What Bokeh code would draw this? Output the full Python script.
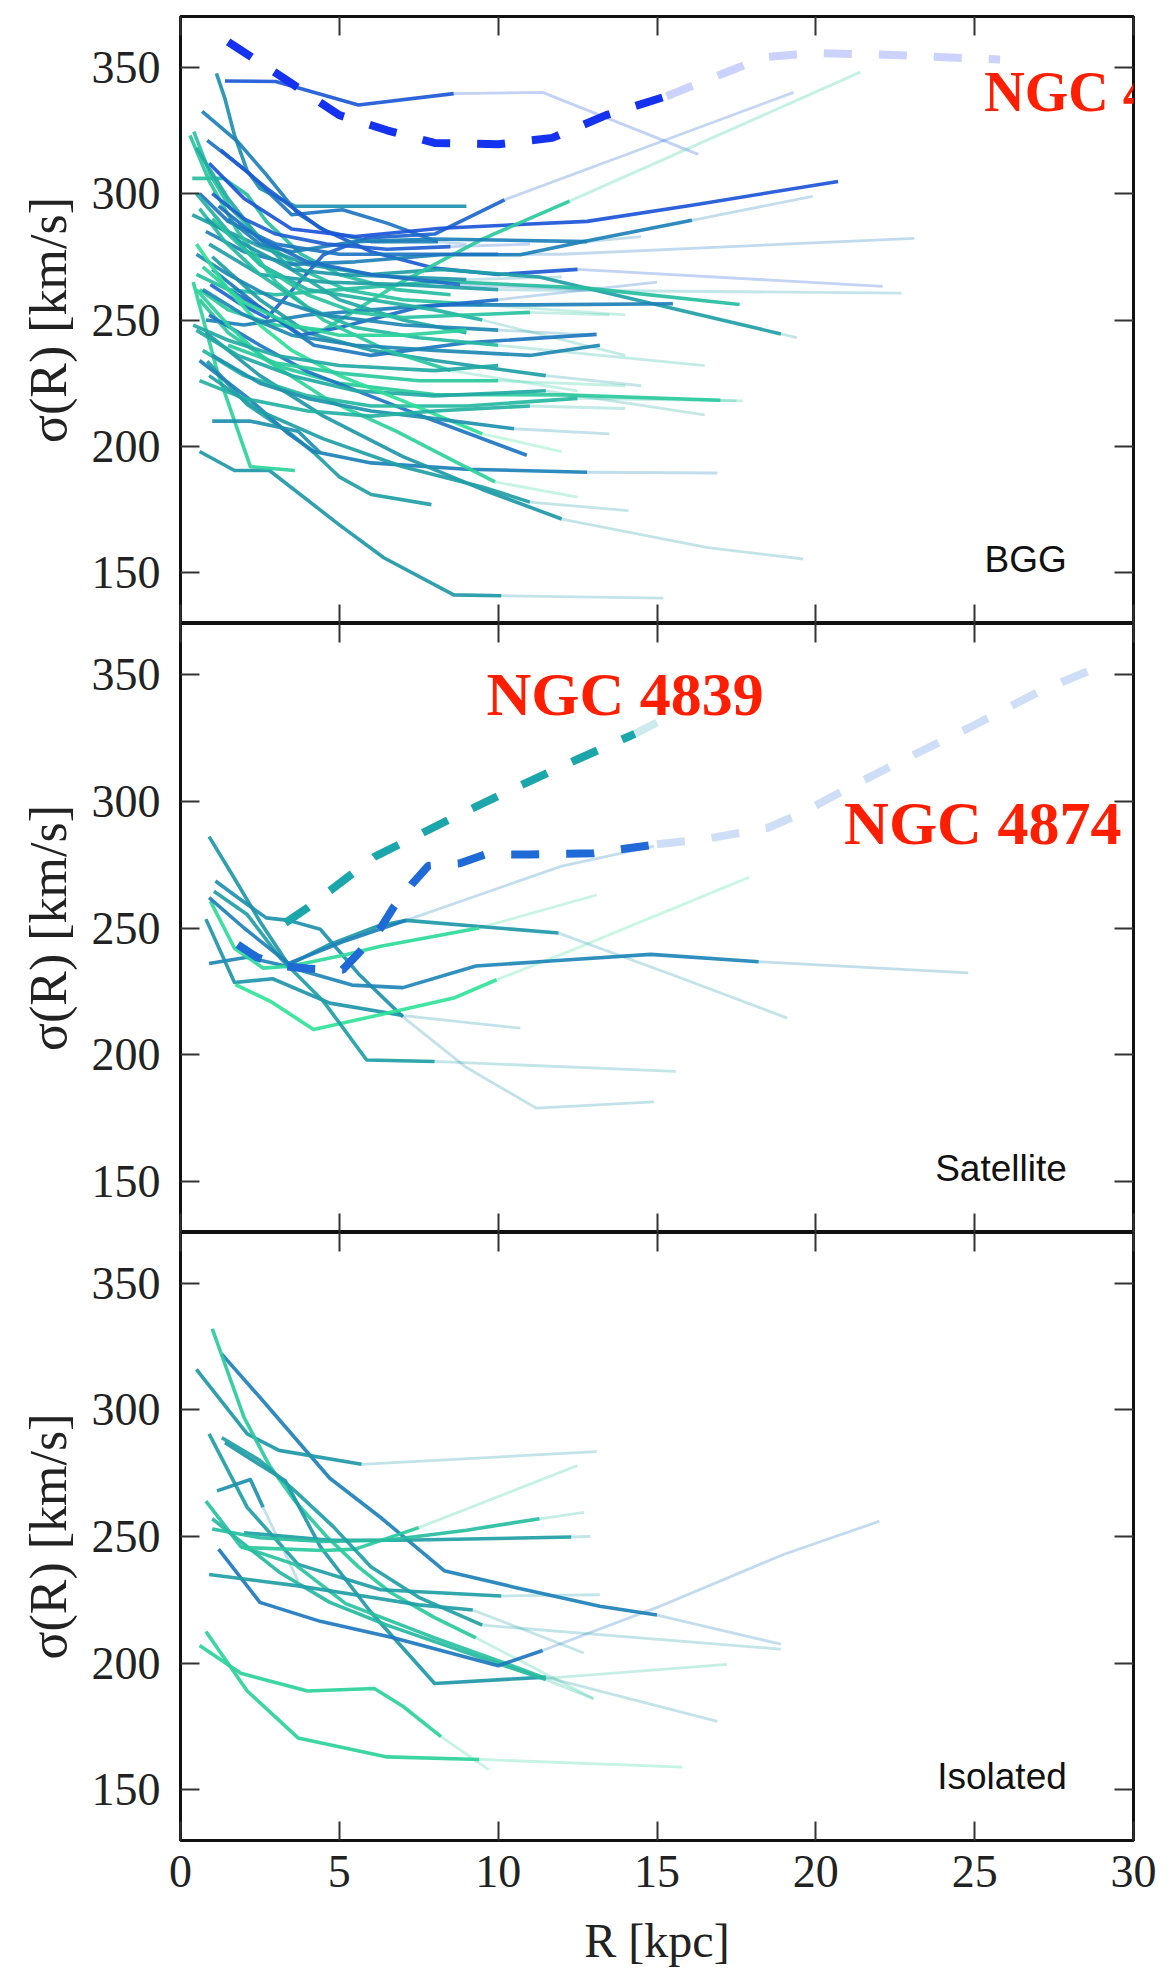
from bokeh.plotting import figure
from bokeh.models import Range1d, LinearAxis, FixedTicker, Label, CustomLabelingPolicy
from bokeh.layouts import column
from bokeh.embed import file_html
from bokeh.resources import INLINE

# ---------------- axes / ticks ----------------
X_TICKS = [0, 5, 10, 15, 20, 25, 30]
Y_TICKS = [150, 200, 250, 300, 350]
X_RANGE = (0, 30)
Y_RANGE = (130, 370)
X_LABEL = "R [kpc]"
Y_LABEL = "σ(R) [km/s]"
PANEL_NAMES = ["BGG", "Satellite", "Isolated"]

# ---------------- BGG panel: R [kpc], sigma [km/s], colour value, faint continuation ----------------
BGG_R = [
    [1.4, 3.0, 5.6, 8.6],
    [1.13, 1.4, 1.7, 2.1, 2.5, 3.6, 9.0],
    [0.68, 1.8, 2.7, 3.7, 4.6, 6.0, 8.1],
    [0.84, 2.1, 3.5, 5.1, 6.5, 8.1],
    [1.26, 2.7, 4.4, 6.0, 8.0, 10.0, 12.5],
    [0.42, 0.94, 1.57, 2.62, 3.8, 5.2, 7.0, 9.5],
    [0.37, 1.36, 2.1, 2.7, 3.8, 5.0, 6.8, 8.5],
    [0.37, 1.26, 2.62, 4.0, 6.0, 8.2, 11.3, 15.0, 18.9],
    [0.94, 1.8, 2.72, 3.6, 4.5, 5.86, 8.0, 10.2],
    [0.9, 2.0, 3.5, 5.5, 8.2, 12.8, 16.2, 20.7],
    [0.8, 2.0, 3.5, 5.5, 8.2, 10.7, 12.7, 16.1],
    [0.6, 1.5, 3.0, 4.5, 6.9, 9.5, 12.25],
    [0.6, 1.5, 3.0, 5.0, 8.0, 10.0],
    [0.5, 1.5, 3.0, 5.0, 8.2, 12.8, 17.6],
    [0.8, 2.0, 4.0, 6.0, 8.2, 11.0, 15.5],
    [0.9, 2.5, 4.5, 7.0, 10.0],
    [0.6, 1.5, 3.0, 5.0, 8.0, 12.0, 17.0],
    [0.6, 1.7, 2.8, 5.0, 6.4, 8.6, 10.1],
    [0.4, 1.15, 2.2, 3.6],
    [0.84, 2.1, 3.5, 4.2, 5.0, 6.0, 7.9],
    [0.6, 2.2, 3.4, 4.2, 6.0, 9.0, 12.8],
    [0.9, 2.5, 4.0, 7.6, 10.9],
    [0.8, 2.5, 4.5, 7.0, 9.5, 12.0],
    [1.0, 2.2, 3.7, 4.4],
    [0.5, 1.5, 2.6, 4.7, 6.8, 8.8, 9.9],
    [0.5, 1.8, 3.5, 5.5, 8.0, 11.5],
    [0.7, 2.0, 4.0, 6.0, 9.0, 12.5],
    [1.0, 2.5, 4.0, 6.0, 8.0, 11.5],
    [1.0, 2.5, 4.2, 6.0, 9.0, 13.1],
    [1.5, 2.5, 3.8, 5.0, 7.5, 10.0],
    [0.5, 1.5, 2.5, 4.0, 6.0, 8.0, 9.5],
    [0.3, 0.9, 1.8, 3.0, 4.5, 6.5, 8.5],
    [0.5, 1.5, 2.5, 3.5, 5.0, 7.0, 9.0],
    [0.6, 1.4, 2.5, 4.0, 5.5, 7.5, 10.0],
    [0.8, 2.0, 3.5, 5.0, 7.0, 9.0],
    [0.5, 1.5, 3.0, 4.5, 7.0, 10.0],
    [0.5, 1.5, 2.5, 3.5, 5.0, 7.0, 9.5],
    [1.0, 2.5, 4.0, 6.0, 8.0, 10.5],
    [0.6, 2.0, 4.0, 6.0, 8.0, 11.0],
    [1.0, 2.5, 4.0, 5.5, 7.0, 9.0, 11.0],
    [0.7, 2.0, 3.5, 5.0, 7.0, 9.0],
    [0.4, 1.5, 3.0, 5.0, 8.0, 10.0],
    [1.5, 2.5, 3.5, 5.5, 8.0, 12.8],
    [1.2, 2.5, 4.0, 6.0, 8.8],
    [1.5, 3.0, 5.0, 7.5, 10.0],
    [0.9, 2.5, 4.5, 7.0, 9.5, 11.0],
    [1.0, 2.0, 3.0, 4.6, 6.5, 8.5],
    [0.7, 2.0, 3.5, 5.5, 8.0, 11.0, 13.2],
]
BGG_S = [
    [344.5, 344.3, 335, 339.5],
    [347.5, 337.5, 323, 309, 302, 295, 295],
    [332.5, 320.5, 307.5, 292, 285, 281, 281],
    [321, 308.7, 291.6, 293.6, 288.3, 281],
    [317.3, 302.2, 286.3, 277, 270.5, 268, 270],
    [324.5, 307.4, 294.3, 281.1, 270, 262, 258, 256],
    [306, 306, 299.5, 289, 276, 268, 262, 260],
    [291.6, 286.3, 278.4, 272, 268, 270, 267, 256, 244.5],
    [264, 257, 250.8, 263, 275.8, 282.4, 284, 297.5],
    [312, 298, 286, 283, 286.3, 289, 295.6, 304.8],
    [285, 277, 272, 273, 275.8, 275.8, 281, 289.4],
    [262, 254, 248, 246, 264.6, 282, 297],
    [300, 289, 280, 276, 276, 276],
    [268, 262, 260, 262, 265.3, 262.6, 256.1],
    [250, 248, 252, 254, 256, 256, 256.4],
    [280, 268, 265, 264, 262],
    [258, 245, 232, 225, 220.5, 220.4, 218.3],
    [198, 190.5, 190.5, 169, 156, 141.3, 141],
    [265, 230, 192, 190.5],
    [233.7, 216.6, 204.7, 197.5, 188, 181, 177],
    [234, 218.4, 205, 198, 193.5, 191, 189.8],
    [252, 240, 229.6, 212, 196.5],
    [245, 228, 212, 196, 183, 171.3],
    [210, 210, 206, 197.5],
    [262, 248, 235, 218, 206, 193, 186],
    [246, 236, 228, 222, 220, 222],
    [238, 228, 220, 216, 216, 219],
    [275, 258, 245, 238, 234, 228],
    [270, 255, 240, 236, 241, 244.3],
    [262, 255, 244, 247, 255, 258],
    [300, 285, 272, 262, 258, 254, 250],
    [323, 305, 285, 265, 250, 238, 230],
    [318, 298, 282, 270, 258, 250, 245],
    [294, 281, 268, 255, 247, 243, 240],
    [290, 280, 270, 268, 267, 266],
    [276, 268, 258, 252, 248, 246],
    [280, 262, 248, 238, 228, 218, 205],
    [236, 225, 219, 214, 211, 207],
    [226, 219, 214, 212, 214, 216],
    [290, 272, 260, 253, 251, 252, 253],
    [271, 257, 248, 244, 244, 246],
    [248, 242, 236, 232, 230, 232],
    [290, 280, 277, 281, 282, 281],
    [295, 282, 273, 268, 264],
    [240, 233, 229, 226, 226],
    [228, 214, 203, 192, 184, 178],
    [300, 290, 284, 280, 278, 279],
    [262, 252, 244, 240, 238, 236, 240],
]
BGG_C = [0.10, 0.45, 0.35, 0.28, 0.12, 0.75, 0.72, 0.55, 0.18, 0.08, 0.35, 0.80,
         0.28, 0.72, 0.35, 0.55, 0.80, 0.50, 0.85, 0.55, 0.35, 0.28, 0.50, 0.45,
         0.85, 0.60, 0.70, 0.55, 0.30, 0.22, 0.65, 0.78, 0.60, 0.70, 0.50, 0.40,
         0.92, 0.45, 0.65, 0.75, 0.85, 0.60, 0.35, 0.25, 0.80, 0.55, 0.15, 0.40]
BGG_FR = [[11.4, 16.3], [], [], [9.0], [22.1], [14.0], [], [19.4], [19.3], [], [19.9], [21.4],
          [12.0, 23.1], [], [], [22.7], [17.7], [15.2], [], [], [16.9], [], [16.6, 19.6], [],
          [12.5], [16.5], [17.5], [14.5], [], [15.0], [14.0], [12.5], [], [16.5], [12.0], [13.0],
          [12.0], [13.5], [14.0], [13.5], [], [], [14.5], [13.0], [14.0], [14.1], [11.0], []]
BGG_FS = [[340, 315.5], [], [], [280], [263.3], [252], [], [243], [340], [], [298.9], [348],
          [276, 282.3], [], [], [260.6], [218], [140], [], [], [189.5], [], [160, 155.5], [],
          [180], [212.5], [218], [224], [], [265], [236], [222], [], [232], [267], [244],
          [198], [205], [215], [252], [], [], [283], [262], [224], [174.6], [280], []]

# NGC 4889 (dashed, BGG panel)
N4889_R = [1.5, 3.2, 5.0, 6.5, 8.0, 10.0, 11.7, 13.4, 15.3]
N4889_S = [360, 346, 331, 325, 320, 319.5, 322, 331, 338.5]
N4889_FR = [16.8, 18.4, 20.0, 22.0, 25.8]
N4889_FS = [346, 354, 355.5, 355, 353]

# ---------------- Satellite panel ----------------
SAT_R = [
    [0.9, 1.7, 2.5, 3.4, 4.6, 6.2, 7.1, 9.5, 11.9],
    [1.1, 1.8, 2.7, 3.4, 4.4, 5.6, 7.0],
    [0.9, 2.1, 3.3, 5.4, 7.0, 9.3, 12.0, 14.8, 18.2],
    [0.8, 1.7, 2.9, 4.7, 7.0],
    [0.94, 1.7, 2.6, 3.45, 5.2, 6.3, 9.4],
    [1.73, 2.83, 4.19, 6.28, 8.6, 9.95],
    [1.05, 2.1, 3.14, 4.5, 5.86, 8.0],
    [0.9, 2.0, 3.4, 5.2, 7.1],
]
SAT_S = [
    [286, 269.5, 252.6, 235.5, 243, 250.7, 253, 250.5, 248],
    [268.5, 262, 254, 253, 249.5, 232, 215],
    [236, 238.5, 235, 227.5, 226.5, 235, 237.3, 239.6, 236.7],
    [253.5, 228.5, 230, 220.4, 215.5],
    [260.6, 242, 234.2, 234.9, 239.5, 242.8, 250],
    [227.7, 221.1, 210, 215.8, 222.4, 229.6],
    [264.5, 255.3, 238.2, 221.1, 198, 197.4],
    [262, 250, 236, 245, 253],
]
SAT_C = [0.50, 0.45, 0.38, 0.48, 0.90, 0.95, 0.55, 0.35]
SAT_FR = [[15.5, 19.1], [9.0, 11.2, 14.9], [24.8], [10.7], [13.1], [12.0, 17.9], [15.6], [12.0, 14.9]]
SAT_FS = [[231.5, 214.5], [195, 179, 181.5], [232.3], [210.5], [263], [239.6, 270], [193.5], [274.4, 282.3]]

# NGC 4839 and NGC 4874 (dashed, Satellite panel)
N4839_R = [3.3, 4.0, 6.1, 8.5, 10.5, 12.5, 14.3]
N4839_S = [252, 258, 278, 293, 305, 316.5, 326.5]
N4839_FR = [15.0]
N4839_FS = [331]
N4874_R = [1.8, 2.4, 3.2, 4.0, 5.1, 5.6, 6.3, 6.7, 7.3, 7.8, 8.8, 9.6, 11.0, 13.0, 15.0]
N4874_S = [243.5, 238.5, 235, 234, 233.5, 240, 250, 258, 267.5, 274.5, 275.5, 279, 279, 279.5, 283]
N4874_FR = [16.5, 18.5, 19.5, 21.0, 22.8, 25.0, 27.0, 29.1]
N4874_FS = [285, 289.5, 295, 305, 316.5, 330, 343, 354]

# ---------------- Isolated panel ----------------
ISO_R = [
    [1.3, 2.6, 4.7, 6.3, 8.3, 10.5, 13.2, 15.0],
    [0.5, 2.1, 3.1, 5.7],
    [1.0, 1.4, 2.0, 2.8, 3.6, 4.6, 5.6, 6.6, 8.0, 9.3],
    [0.9, 2.1, 3.7, 6.3, 10.1],
    [1.4, 3.3, 4.4, 6.0, 8.0, 11.5],
    [1.15, 2.2, 2.6],
    [0.8, 1.9, 3.6, 5.2, 8.0, 10.0, 11.5],
    [1.0, 2.1, 3.1, 4.7, 6.5, 9.5, 11.5],
    [2.0, 4.7, 6.9, 12.3],
    [1.9, 4.5, 5.5, 7.5],
    [1.0, 2.5, 4.5, 6.5, 9.0, 11.3],
    [1.2, 2.5, 4.4, 6.7, 10.0, 11.4],
    [0.9, 3.7, 5.5, 7.5, 9.2],
    [1.3, 2.5, 3.6, 4.8, 6.0, 7.5, 9.5],
    [0.6, 1.9, 4.0, 6.1, 7.0, 8.2],
    [0.8, 2.1, 3.7, 6.5, 9.4],
]
ISO_S = [
    [322, 303.5, 273, 257.5, 236.5, 230, 222.5, 219],
    [316, 290.5, 284, 278.5],
    [332, 318, 297, 278, 264, 250, 238, 228, 218, 210],
    [290.5, 261.5, 239, 229, 226.5],
    [287, 272, 246, 220, 192, 194.5],
    [268, 272.5, 261.5],
    [264, 246, 239, 223.5, 210, 201, 194],
    [257, 246, 236, 224, 215, 202, 193.5],
    [251.5, 248.5, 248.5, 249.8],
    [245.7, 244.5, 245, 253.5],
    [253, 249.5, 248, 248.5, 252.5, 257],
    [245, 224, 216.5, 210, 199, 205],
    [235, 230.5, 227, 223, 221],
    [289, 280, 268, 254, 238, 226, 215],
    [207, 196, 189, 190, 183, 171],
    [212.5, 189, 170.5, 163, 162],
]
ISO_C = [0.35, 0.50, 0.80, 0.55, 0.50, 0.45, 0.75, 0.70, 0.55, 0.80, 0.72, 0.30, 0.55, 0.55, 0.85, 0.85]
ISO_FR = [[18.9], [13.1], [13.0], [13.2], [16.9], [3.7], [17.2], [13.0], [12.9], [12.5], [12.7],
          [15.0, 19.0, 22.0], [12.7], [18.9], [9.7], [15.8]]
ISO_FS = [[207.5], [283.5], [186], [227], [177], [232.5], [199.5], [186], [250], [278], [259.5],
          [222, 243, 256], [204], [205.5], [158], [159]]

# ---------------- styling ----------------
SERIF = "Liberation Serif"
SANS = "Liberation Sans"
NGC_RED = "#ff1e00"
NO_LABELS = "return []"


def colour(c):
    anchors = [(0.0, (28, 72, 225)), (0.5, (30, 152, 168)), (1.0, (50, 235, 150))]
    for (c0, a), (c1, b) in zip(anchors[:-1], anchors[1:]):
        if c <= c1:
            t = (c - c0) / (c1 - c0)
            return "#%02x%02x%02x" % tuple(round(a[i] + t * (b[i] - a[i])) for i in range(3))
    return "#%02x%02x%02x" % anchors[-1][1]


def tick_style(ax):
    ax.axis_line_color = None
    ax.major_tick_in = 19
    ax.major_tick_out = 0
    ax.minor_tick_in = 0
    ax.minor_tick_out = 0
    ax.major_tick_line_width = 2
    ax.major_tick_line_color = "#333333"


def hide_labels(ax):
    ax.major_label_text_font_size = "0px"
    ax.major_label_standoff = 0
    ax.major_label_policy = CustomLabelingPolicy(code=NO_LABELS)


def make_panel(frame_h, top, bottom, show_x):
    p = figure(frame_width=953, frame_height=frame_h,
               x_range=Range1d(*X_RANGE), y_range=Range1d(*Y_RANGE),
               output_backend="svg", toolbar_location=None,
               min_border_left=180, min_border_right=32,
               min_border_top=top, min_border_bottom=bottom,
               background_fill_color="white", border_fill_color="white")
    p.outline_line_color = "#111111"
    p.outline_line_width = 3
    p.grid.visible = False

    for ax in (p.xaxis[0], p.yaxis[0]):
        tick_style(ax)
        ax.major_label_text_font = SERIF
        ax.major_label_text_font_size = "46px"
        ax.major_label_text_color = "#222222"
        ax.axis_label_text_font = SERIF
        ax.axis_label_text_font_style = "normal"
        ax.axis_label_text_color = "#222222"
    p.xaxis[0].ticker = FixedTicker(ticks=X_TICKS)
    p.yaxis[0].ticker = FixedTicker(ticks=Y_TICKS)
    p.yaxis[0].major_label_standoff = 20
    p.yaxis[0].axis_label = Y_LABEL
    p.yaxis[0].axis_label_text_font_size = "52px"
    p.yaxis[0].axis_label_standoff = 12
    if show_x:
        p.xaxis[0].major_label_standoff = 15
        p.xaxis[0].axis_label = X_LABEL
        p.xaxis[0].axis_label_text_font_size = "48px"
        p.xaxis[0].axis_label_standoff = 24
    else:
        hide_labels(p.xaxis[0])

    for side, ticks in (("right", Y_TICKS), ("above", X_TICKS)):
        ax = LinearAxis(ticker=FixedTicker(ticks=ticks))
        tick_style(ax)
        hide_labels(ax)
        p.add_layout(ax, side)
    return p


def draw_lines(p, R, S, C, FR, FS):
    fx, fy, fc = [], [], []
    for r, s, c, fr, fs in zip(R, S, C, FR, FS):
        if fr:
            fx.append([r[-1]] + fr)
            fy.append([s[-1]] + fs)
            fc.append(colour(c))
    p.multi_line(fx, fy, line_color=fc, line_alpha=0.27, line_width=2.8, line_join="round")
    p.multi_line(R, S, line_color=[colour(c) for c in C], line_alpha=0.92,
                 line_width=3.6, line_join="round")


def draw_dashed(p, r, s, fr, fs, col):
    p.line([r[-1]] + fr, [s[-1]] + fs, line_color=col, line_alpha=0.22,
           line_width=8, line_dash="28 27")
    p.line(r, s, line_color=col, line_width=8, line_dash="28 27")


def ngc_label(p, x, y, text, size="62px"):
    p.add_layout(Label(x=x, y=y, text=text, text_font=SERIF, text_font_style="bold",
                       text_font_size=size, text_color=NGC_RED,
                       text_baseline="alphabetic", text_align="left"))


def panel_label(p, text):
    p.add_layout(Label(x=27.9, y=155.2, text=text, text_font=SANS, text_font_size="37px",
                       text_color="#111111", text_align="right", text_baseline="alphabetic"))


p1 = make_panel(607, 16, 0, False)
draw_lines(p1, BGG_R, BGG_S, BGG_C, BGG_FR, BGG_FS)
draw_dashed(p1, N4889_R, N4889_S, N4889_FR, N4889_FS, "#1432f0")
ngc_label(p1, 25.3, 340.3, "NGC 4889", "56px")
panel_label(p1, PANEL_NAMES[0])

p2 = make_panel(609, 0, 0, False)
draw_lines(p2, SAT_R, SAT_S, SAT_C, SAT_FR, SAT_FS)
draw_dashed(p2, N4874_R, N4874_S, N4874_FR, N4874_FS, "#1f6ad6")
draw_dashed(p2, N4839_R, N4839_S, N4839_FR, N4839_FS, "#1aa6aa")
ngc_label(p2, 9.63, 342.4, "NGC 4839")
ngc_label(p2, 20.89, 291.2, "NGC 4874")
panel_label(p2, PANEL_NAMES[1])

p3 = make_panel(608, 0, 130, True)
draw_lines(p3, ISO_R, ISO_S, ISO_C, ISO_FR, ISO_FS)
panel_label(p3, PANEL_NAMES[2])

layout = column(p1, p2, p3, spacing=0)
open("out.html", "w").write(file_html(layout, INLINE))
